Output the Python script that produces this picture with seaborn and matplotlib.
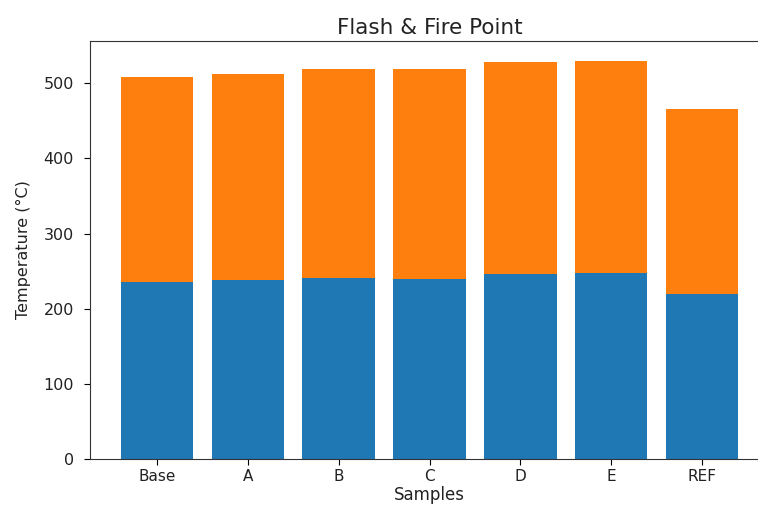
import matplotlib
matplotlib.use("Agg")
import matplotlib.pyplot as plt
import seaborn as sns
import pandas as pd

samples = ["Base", "A", "B", "C", "D", "E", "REF"]
flash_point = [235, 238, 241, 239, 246, 247, 220]
fire_point = [273, 274, 278, 280, 282, 283, 246]

total = [f + g for f, g in zip(flash_point, fire_point)]
df = pd.DataFrame({"Samples": samples, "Flash": flash_point, "Total": total})

W, H = 758, 507
fig = plt.figure(figsize=(W / 100, H / 100), dpi=100)
ax = fig.add_axes([90 / W, (H - 459) / H, 679 / W, (459 - 40.7) / H])

sns.barplot(data=df, x="Samples", y="Total", color="#ff7f0e", saturation=1,
            width=0.8, ax=ax, order=samples)
sns.barplot(data=df, x="Samples", y="Flash", color="#1f77b4", saturation=1,
            width=0.8, ax=ax, order=samples)

ax.set_xlim(-0.74, 6.74)
ax.set_ylim(0, 556.5)
ax.set_title("Flash & Fire Point", fontsize=15.5, color="#222222", pad=5)
ax.set_xlabel("Samples", fontsize=12, color="#222222", labelpad=1)
ax.set_ylabel("Temperature (°C)", fontsize=11.5, color="#222222", labelpad=9)
ax.tick_params(axis="x", labelsize=11, labelcolor="#222222", length=4.5, pad=3)
ax.tick_params(axis="y", labelsize=11.5, labelcolor="#222222", length=4.5, pad=7)
for s in ax.spines.values():
    s.set_color("#333333")

fig.savefig("out.png", dpi=100)
